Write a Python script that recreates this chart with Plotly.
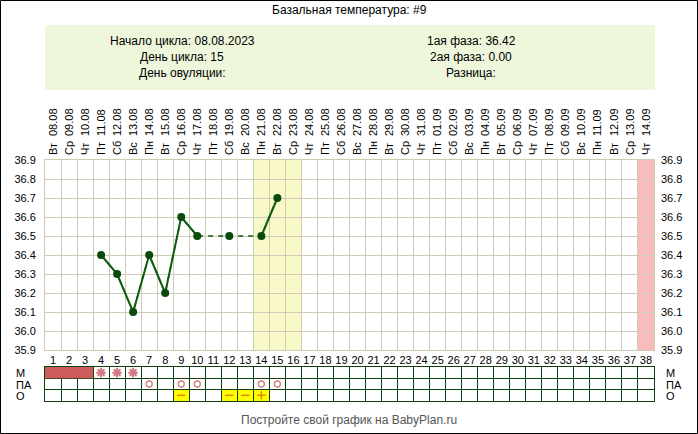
import plotly.graph_objects as go

# cycle info
title_text = "Базальная температура: #9"
info_left = ["Начало цикла: 08.08.2023", "День цикла: 15", "День овуляции:"]
info_right = ["1ая фаза: 36.42", "2ая фаза: 0.00", "Разница:"]
footer_text = "Постройте свой график на BabyPlan.ru"

days = list(range(1, 39))
weekdays = ["Вт", "Ср", "Чт", "Пт", "Сб", "Вс", "Пн"] * 5 + ["Вт", "Ср", "Чт"]
dates = ["08.08", "09.08", "10.08", "11.08", "12.08", "13.08", "14.08", "15.08",
         "16.08", "17.08", "18.08", "19.08", "20.08", "21.08", "22.08", "23.08",
         "24.08", "25.08", "26.08", "27.08", "28.08", "29.08", "30.08", "31.08",
         "01.09", "02.09", "03.09", "04.09", "05.09", "06.09", "07.09", "08.09",
         "09.09", "10.09", "11.09", "12.09", "13.09", "14.09"]

temp_days = [4, 5, 6, 7, 8, 9, 10, 12, 14, 15]
temps = [36.4, 36.3, 36.1, 36.4, 36.2, 36.6, 36.5, 36.5, 36.5, 36.7]
temp_ticks = [35.9, 36.0, 36.1, 36.2, 36.3, 36.4, 36.5, 36.6, 36.7, 36.8, 36.9]

highlight_days = [14, 15, 16]
pink_days = [38]

# table rows
row_labels = ["М", "ПА", "О"]
menses_days = [1, 2, 3]
spot_days = [4, 5, 6]
pa_days = [7, 9, 10, 14, 15]
test_days = [9, 12, 13, 14]
test_marks = ["-", "-", "-", "+"]

FONT = "Liberation Sans, Arial, sans-serif"
GRID = "#cfcbb6"
TGRID = "#0f3f0f"
GREEN = "#0e5c0e"
PINK = "#d47a84"
ORANGE = "#e08a00"

by_day = dict(zip(temp_days, temps))
y_gaps = [by_day.get(d) for d in days]

fig = go.Figure()

# dashed line across missing days, solid segments on top
fig.add_trace(go.Scatter(x=temp_days, y=temps, mode="lines",
                         line=dict(color=GREEN, width=1.5, dash="5px,5px"),
                         hoverinfo="skip"))
fig.add_trace(go.Scatter(x=days, y=y_gaps, mode="lines+markers",
                         connectgaps=False,
                         line=dict(color=GREEN, width=2),
                         marker=dict(color="#0a4a0a", size=8)))

# helper traces so the extra axes get drawn
fig.add_trace(go.Scatter(x=[days[0]], y=[None], xaxis="x2", yaxis="y"))
fig.add_trace(go.Scatter(x=[days[0]], y=[None], xaxis="x3", yaxis="y"))
fig.add_trace(go.Scatter(x=[days[0]], y=[None], xaxis="x", yaxis="y3"))

# table symbols
row_y = {"М": 2.5, "ПА": 1.5, "О": 0.5}
fig.add_trace(go.Scatter(x=spot_days, y=[row_y["М"]] * len(spot_days),
                         xaxis="x4", yaxis="y2", mode="markers",
                         marker=dict(symbol="asterisk-open", size=8, color=PINK,
                                     line=dict(color=PINK, width=2))))
fig.add_trace(go.Scatter(x=pa_days, y=[row_y["ПА"]] * len(pa_days),
                         xaxis="x4", yaxis="y2", mode="markers",
                         marker=dict(symbol="circle-open", size=6, color=PINK,
                                     line=dict(color=PINK, width=1.3))))
mark_symbol = {"-": "line-ew-open", "+": "cross-thin-open"}
fig.add_trace(go.Scatter(x=test_days, y=[row_y["О"]] * len(test_days),
                         xaxis="x4", yaxis="y2", mode="markers",
                         marker=dict(symbol=[mark_symbol[m] for m in test_marks], size=6,
                                     color=ORANGE, line=dict(color=ORANGE, width=1.5))))

shapes = []
for d in highlight_days:
    shapes.append(dict(type="rect", xref="x", yref="y", x0=d - 0.5, x1=d + 0.5,
                       y0=35.9, y1=36.9, fillcolor="#f8f8c8", line_width=0, layer="below"))
for d in pink_days:
    shapes.append(dict(type="rect", xref="x", yref="y", x0=d - 0.5, x1=d + 0.5,
                       y0=35.9, y1=36.9, fillcolor="#f9bcbc", line_width=0, layer="below"))
for d in menses_days:
    shapes.append(dict(type="rect", xref="x4", yref="y2", x0=d - 0.5, x1=d + 0.5,
                       y0=2, y1=3, fillcolor="#cd5c5c", line_width=0, layer="above"))
for d in test_days:
    shapes.append(dict(type="rect", xref="x4", yref="y2", x0=d - 0.5, x1=d + 0.5,
                       y0=0, y1=1, fillcolor="#ffff00", line_width=0, layer="below"))

# info box and outer frame
W, H, L, R, T, B = 698, 434, 45, 44, 160, 33
pw, ph = W - L - R, H - T - B
px = lambda v: (v - L) / pw
py = lambda v: (H - B - v) / ph
shapes.append(dict(type="rect", xref="paper", yref="paper", x0=px(45), x1=px(655),
                   y0=py(90), y1=py(25), fillcolor="#eef7dc", line_width=0, layer="below"))
shapes.append(dict(type="rect", xref="paper", yref="paper", x0=px(0.5), x1=px(W - 0.5),
                   y0=py(H - 0.5), y1=py(0.5), line=dict(color="#000000", width=1)))


def label(text, x, y, size=12, color="#000", **kw):
    return dict(text=text, x=x, y=y, xref=kw.pop("xref", "paper"), yref=kw.pop("yref", "paper"),
                xanchor=kw.pop("xanchor", "center"), yanchor="middle", showarrow=False,
                font=dict(size=size, color=color, family=FONT), **kw)


annotations = [label(title_text, px(349), py(10))]
for i, (a, b) in enumerate(zip(info_left, info_right)):
    annotations.append(label(a, px(182), py(41 + 16 * i)))
    annotations.append(label(b, px(471), py(41 + 16 * i)))
for lab in row_labels:
    annotations.append(label(lab, 0, row_y[lab], size=11, xshift=-31, yref="y2",
                             xanchor="left", height=11))
    annotations.append(label(lab, 1, row_y[lab], size=11, xshift=10, yref="y2",
                             xanchor="left", height=11))
annotations.append(label(footer_text, px(349), py(420), color="#555"))

bounds = [d - 0.5 for d in days] + [days[-1] + 0.5]
tick_font = dict(size=11, color="#000", family=FONT)
main_dom = [(H - B - 350) / ph, 1]
table_dom = [0, (401 - 367) / ph]

fig.update_layout(
    width=W, height=H,
    margin=dict(l=L, r=R, t=T, b=B, autoexpand=False),
    paper_bgcolor="white", plot_bgcolor="rgba(0,0,0,0)",
    showlegend=False,
    hovermode=False,
    font=dict(family=FONT),
    shapes=shapes,
    annotations=annotations,
    xaxis=dict(domain=[0, 1], anchor="y", range=[0.5, 38.5], tickmode="array",
               tickvals=days, ticktext=[str(d) for d in days], showgrid=False,
               zeroline=False, ticks="", tickfont=tick_font,
               showline=True, linecolor=GRID, mirror=True,
               minor=dict(tickmode="array", tickvals=bounds, showgrid=True,
                          gridcolor=GRID, ticks="")),
    xaxis2=dict(overlaying="x", side="top", anchor="y", range=[0.5, 38.5],
                tickmode="array", tickvals=days, ticktext=weekdays, tickangle=-90,
                showgrid=False, zeroline=False, ticks="", tickfont=tick_font,
                ticklabelstandoff=4),
    xaxis3=dict(overlaying="x", side="top", anchor="y", range=[0.5, 38.5],
                tickmode="array", tickvals=days, ticktext=dates, tickangle=-90,
                showgrid=False, zeroline=False, ticks="", tickfont=tick_font,
                ticklabelstandoff=23),
    yaxis=dict(domain=main_dom, anchor="x", range=[35.9, 36.9], tickmode="array",
               tickvals=temp_ticks, ticktext=["%.1f" % t for t in temp_ticks],
               showgrid=True, gridcolor=GRID, zeroline=False, ticks="",
               tickfont=tick_font, ticklabelstandoff=6,
               showline=True, linecolor=GRID, mirror=True),
    yaxis3=dict(overlaying="y", side="right", anchor="x", range=[35.9, 36.9],
                tickmode="array", tickvals=temp_ticks,
                ticktext=["%.1f" % t for t in temp_ticks], showgrid=False,
                zeroline=False, ticks="", tickfont=tick_font, ticklabelstandoff=6),
    xaxis4=dict(domain=[0, 1], anchor="y2", range=[0.5, 38.5], tickmode="array",
                tickvals=bounds, showgrid=True, gridcolor=TGRID, showticklabels=False,
                zeroline=False, ticks="", showline=True, linecolor=TGRID, mirror=True),
    yaxis2=dict(domain=table_dom, anchor="x4", range=[0, 3], tickmode="array",
                tickvals=[0, 1, 2, 3], showgrid=True, gridcolor=TGRID,
                showticklabels=False, zeroline=False, ticks="",
                showline=True, linecolor=TGRID, mirror=True),
)

# the page must start at the top-left corner, like the reference image
fig.write_html("out.html", config={"displayModeBar": False},
               post_script="document.body.style.margin='0';")
